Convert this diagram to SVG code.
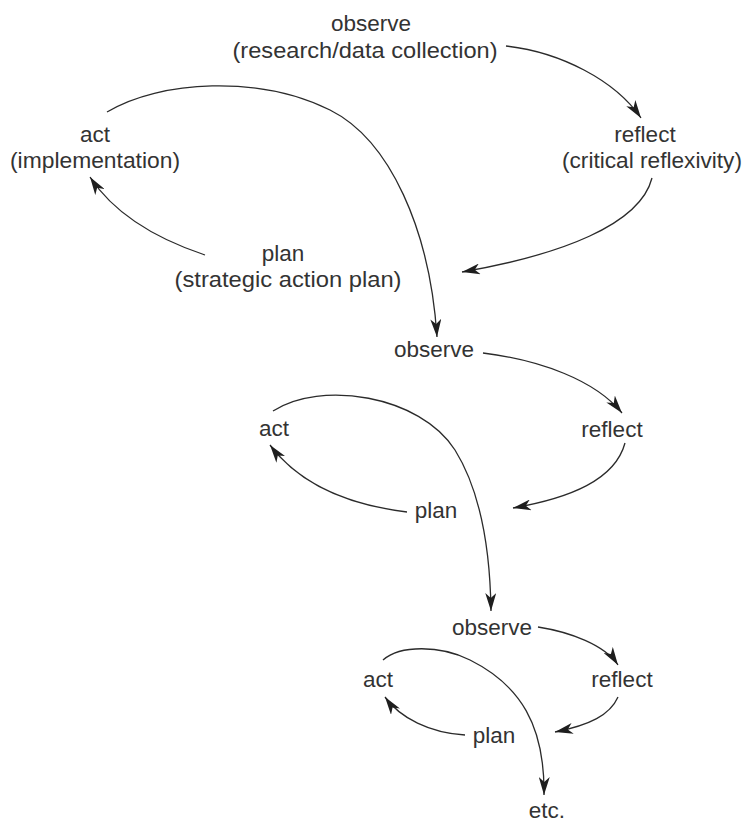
<svg xmlns="http://www.w3.org/2000/svg" width="745" height="826" viewBox="0 0 745 826">
  <style>
    .lbl { font-family: "Liberation Sans", Arial, sans-serif; font-size: 22.5px; fill: #333333; text-anchor: middle; }
    .edge { fill: none; stroke: #2b2b2b; stroke-width: 1.3; marker-end: url(#head); }
  </style>
  <defs>
    <marker id="head" viewBox="0 0 18 11" refX="18" refY="5.5" markerWidth="18" markerHeight="11" markerUnits="userSpaceOnUse" orient="auto">
      <path d="M0,0 L18,5.5 L0,11 L5,5.5 z" fill="#1e1e1e"/>
    </marker>
  </defs>

  <rect width="745" height="826" fill="#ffffff"/>

  <!-- first cycle -->
  <g id="observe1">
    <text class="lbl" x="371" y="31">observe</text>
    <text class="lbl" x="365" y="58" textLength="265" lengthAdjust="spacingAndGlyphs">(research/data collection)</text>
  </g>
  <g id="reflect1">
    <text class="lbl" x="645" y="142">reflect</text>
    <text class="lbl" x="652" y="168" textLength="180" lengthAdjust="spacingAndGlyphs">(critical reflexivity)</text>
  </g>
  <g id="plan1">
    <text class="lbl" x="283" y="261">plan</text>
    <text class="lbl" x="288" y="287" textLength="227" lengthAdjust="spacingAndGlyphs">(strategic action plan)</text>
  </g>
  <g id="act1">
    <text class="lbl" x="95" y="142">act</text>
    <text class="lbl" x="95" y="168" textLength="170" lengthAdjust="spacingAndGlyphs">(implementation)</text>
  </g>

  <!-- second cycle -->
  <g id="observe2"><text class="lbl" x="434" y="357">observe</text></g>
  <g id="reflect2"><text class="lbl" x="612" y="437">reflect</text></g>
  <g id="plan2"><text class="lbl" x="436" y="518">plan</text></g>
  <g id="act2"><text class="lbl" x="274" y="436">act</text></g>

  <!-- third cycle -->
  <g id="observe3"><text class="lbl" x="492" y="635">observe</text></g>
  <g id="reflect3"><text class="lbl" x="622" y="687">reflect</text></g>
  <g id="plan3"><text class="lbl" x="494" y="743">plan</text></g>
  <g id="act3"><text class="lbl" x="378" y="687">act</text></g>
  <g id="etc"><text class="lbl" x="547" y="818">etc.</text></g>

  <g id="connectors">
    <!-- cycle 1 -->
    <path class="edge" d="M506,46 C560,52 615,80 641,118"/>
    <path class="edge" d="M652,178 C640,225 560,255 462,272"/>
    <path class="edge" d="M205,255 C160,240 115,215 90,177"/>
    <path class="edge" d="M107,112 C160,80 260,75 330,110 C390,140 430,230 437,337"/>
    <!-- cycle 2 -->
    <path class="edge" d="M483,353 C540,360 595,380 622,413"/>
    <path class="edge" d="M625,443 C615,480 570,498 513,508"/>
    <path class="edge" d="M407,512 C350,505 300,485 270,445"/>
    <path class="edge" d="M273,411 C320,380 420,395 455,450 C478,487 490,540 491,611"/>
    <!-- cycle 3 -->
    <path class="edge" d="M538,627 C570,632 605,645 618,665"/>
    <path class="edge" d="M618,697 C610,715 590,725 555,732"/>
    <path class="edge" d="M465,735 C430,733 400,718 385,697"/>
    <path class="edge" d="M383,660 C400,645 440,645 470,660 C520,685 545,725 544,795"/>
  </g>
</svg>
